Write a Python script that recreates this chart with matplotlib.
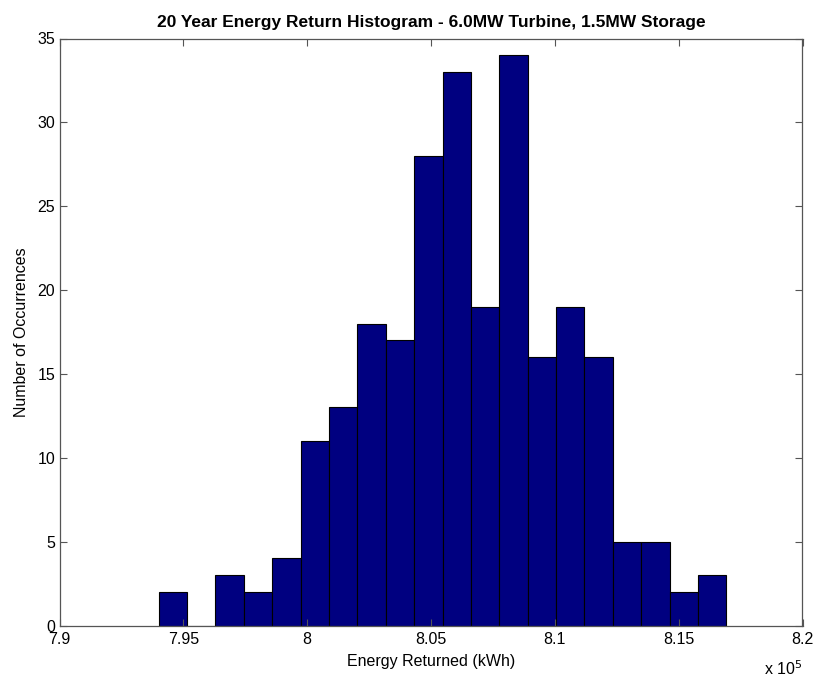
import matplotlib
matplotlib.use("Agg")
import matplotlib.pyplot as plt
import numpy as np

# Data (x in units of 1e5 kWh)
bin_start = 7.940
bin_width = 0.011465
counts = [2, 0, 3, 2, 4, 11, 13, 18, 17, 28, 33, 19, 34, 16, 19, 16, 5, 5, 2, 3]
xticks = [7.9, 7.95, 8.0, 8.05, 8.1, 8.15, 8.2]
xticklabels = ["7.9", "7.95", "8", "8.05", "8.1", "8.15", "8.2"]
yticks = [0, 5, 10, 15, 20, 25, 30, 35]

plt.rcParams['font.family'] = ['Liberation Sans', 'DejaVu Sans']

fig = plt.figure(figsize=(8.17, 6.78), dpi=100)
L, R, T, B = 59.5, 802.5, 38.5, 625.5
ax = fig.add_axes([L/817, 1-B/678, (R-L)/817, (B-T)/678])

lefts = bin_start + bin_width*np.arange(len(counts))
ax.bar(lefts, counts, width=bin_width, align='edge', color='#000080',
       edgecolor='black', linewidth=0.8)

ax.set_xlim(7.9, 8.2)
ax.set_ylim(0, 35)
ax.set_xticks(xticks)
ax.set_xticklabels(xticklabels)
ax.set_yticks(yticks)
ax.tick_params(direction='in', top=True, right=True, labelsize=11.5, length=5,
               color='#555555', width=0.8)
ax.tick_params(axis='x', pad=4.5)
ax.tick_params(axis='y', pad=3)
for s in ax.spines.values():
    s.set_linewidth(0.9)
    s.set_color('#555555')

ax.set_title("20 Year Energy Return Histogram - 6.0MW Turbine, 1.5MW Storage",
             fontsize=12.5, fontweight='bold', pad=8)
ax.set_xlabel("Energy Returned (kWh)", fontsize=11.5, labelpad=5)
ax.set_ylabel("Number of Occurrences", fontsize=11.5, labelpad=6)
fig.text(802/817, 1-659/678, "x 10$^{5}$", ha='right', va='top', fontsize=11.5)

fig.savefig("out.png", dpi=100)
